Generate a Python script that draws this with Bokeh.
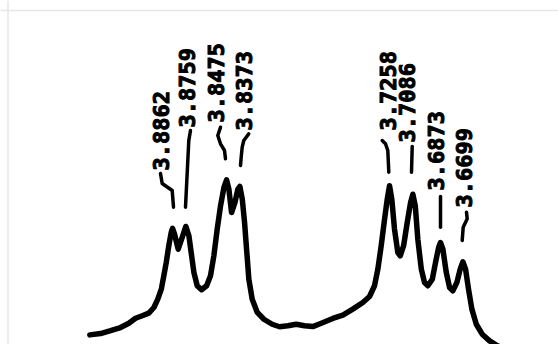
from math import pi
from bokeh.plotting import figure
from bokeh.models import Range1d, Span
from bokeh.core.properties import value
from bokeh.embed import file_html
from bokeh.resources import INLINE

# ---- data (ppm, relative intensity) ----
shift_ppm = [3.9479, 3.9399, 3.9324, 3.9250, 3.9188, 3.9138, 3.9088, 3.9039, 3.9001, 3.8972,
             3.8946, 3.8927, 3.8909, 3.8890, 3.8872, 3.8862, 3.8847, 3.8820, 3.8790, 3.8763,
             3.8740, 3.8723, 3.8703, 3.8678, 3.8646, 3.8608, 3.8579, 3.8554, 3.8529, 3.8504,
             3.8479, 3.8459, 3.8442, 3.8422, 3.8397, 3.8375, 3.8360, 3.8342, 3.8325, 3.8310,
             3.8293, 3.8268, 3.8230, 3.8181, 3.8119, 3.8064, 3.8002, 3.7940, 3.7878, 3.7816,
             3.7753, 3.7667, 3.7592, 3.7518, 3.7443, 3.7393, 3.7356, 3.7331, 3.7306, 3.7281,
             3.7261, 3.7244, 3.7227, 3.7207, 3.7182, 3.7164, 3.7139, 3.7112, 3.7087, 3.7070,
             3.7052, 3.7033, 3.7007, 3.6983, 3.6958, 3.6925, 3.6901, 3.6878, 3.6864, 3.6846,
             3.6821, 3.6796, 3.6772, 3.6742, 3.6717, 3.6697, 3.6677, 3.6655, 3.6630, 3.6597,
             3.6553, 3.6498, 3.6448, 3.6394]
intensity = [5.8, 6.6, 8.3, 10.2, 12.8, 15.8, 17.3, 18.9, 22.3, 27.3,
             33.3, 41.4, 49.4, 59.5, 67.5, 69.9, 66.4, 57.4, 64.5, 71.1,
             65.5, 55.4, 43.4, 35.4, 33.0, 35.4, 41.4, 53.4, 69.5, 83.6,
             94.6, 99.2, 93.6, 79.5, 85.5, 93.6, 95.2, 87.5, 73.5, 57.4,
             39.3, 27.3, 19.3, 15.2, 12.2, 10.7, 11.3, 12.2, 11.3, 10.8,
             12.8, 15.7, 17.7, 21.3, 25.3, 28.9, 35.4, 45.4, 59.5, 75.5,
             87.5, 95.6, 87.5, 69.5, 55.4, 53.4, 59.5, 73.5, 85.5, 90.5,
             83.6, 63.4, 45.4, 37.3, 35.4, 39.3, 49.4, 58.4, 61.4, 57.4,
             43.4, 34.3, 32.3, 37.3, 45.4, 49.8, 45.4, 33.3, 21.3, 12.2,
             6.2, 2.2, -0.4, -2.4]
peak_labels = ["3.8862", "3.8759", "3.8475", "3.8373",
               "3.7258", "3.7086", "3.6873", "3.6699"]

# ---- layout (pixels of the reference picture) ----
W, H = 558, 344
X_START, X_END = 4.0145, 3.5984
Y_START, Y_END = 0.0, 207.2

def to_ppm(px):
    return X_START + px * (X_END - X_START) / W

def to_int(py):
    return Y_END - py * (Y_END - Y_START) / H

label_cx = [160, 186, 215, 243, 387, 406, 435, 463]
label_bottom = [170, 127, 122, 130, 130, 142, 190, 207]
leaders = [
    [(160, 173), (161.7, 183), (171.7, 190), (173, 206.7)],
    [(190, 130), (188.3, 140), (185, 206.7)],
    [(220, 126.7), (217.3, 135), (220, 143.3), (224, 150), (225, 158.3)],
    [(248.3, 133.3), (243.3, 140), (241.7, 146.7), (240.7, 156.7), (240, 165)],
    [(381.7, 140), (385, 143.3), (387.3, 150), (388.3, 171.7)],
    [(411.7, 146), (411, 171.7)],
    [(440, 196), (440, 226.7)],
    [(466, 211.7), (466.7, 218.3), (462.7, 226.7), (461.7, 240)],
]

p = figure(width=W, height=H, x_range=Range1d(X_START, X_END), y_range=Range1d(Y_START, Y_END),
           output_backend="svg", toolbar_location=None, min_border=0,
           x_axis_location=None, y_axis_location=None)
p.grid.visible = False
p.outline_line_color = None
p.background_fill_color = "white"
p.border_fill_color = "white"

# faint page frame (top and left edges)
p.add_layout(Span(location=to_int(10), dimension="width", line_color="#e6e6e6", line_width=1.5))
p.add_layout(Span(location=to_ppm(7.5), dimension="height", line_color="#e6e6e6", line_width=1.5))

p.line(shift_ppm, intensity, line_color="black", line_width=5.5,
       line_join="round", line_cap="round")

p.multi_line([[to_ppm(a) for a, b in seg] for seg in leaders],
             [[to_int(b) for a, b in seg] for seg in leaders],
             line_color="black", line_width=3.5, line_join="round", line_cap="round")

p.text(x=[to_ppm(v) for v in label_cx], y=[to_int(v) for v in label_bottom], text=peak_labels,
       angle=pi / 2, text_align="left", text_baseline="middle",
       text_font=value("DejaVu Sans Mono"), text_font_style="bold",
       text_font_size="22px", text_color="black", text_outline_color="black")

open("out.html", "w").write(file_html(p, INLINE))
